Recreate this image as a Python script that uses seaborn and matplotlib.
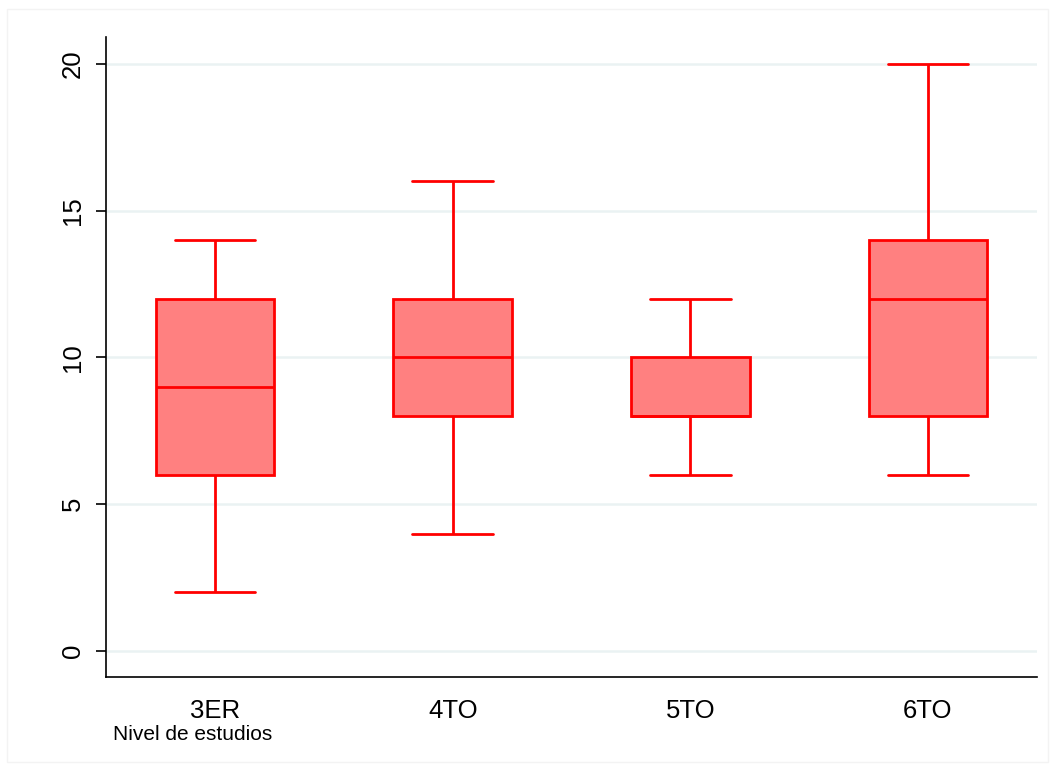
import matplotlib
matplotlib.use("Agg")
import matplotlib.pyplot as plt
import seaborn as sns
import pandas as pd
from matplotlib.patches import Rectangle

# Scores per study level (min, Q1, median, Q3, max)
niveles = ["3ER", "4TO", "5TO", "6TO"]
valores_3er = [2, 6, 9, 12, 14]
valores_4to = [4, 8, 10, 12, 16]
valores_5to = [6, 8, 8, 10, 12]
valores_6to = [6, 8, 12, 14, 20]
y_ticks = [0, 5, 10, 15, 20]

df = pd.DataFrame({
    "nivel": [n for n, v in zip(niveles, [valores_3er, valores_4to, valores_5to, valores_6to]) for _ in v],
    "valor": valores_3er + valores_4to + valores_5to + valores_6to,
})

sns.set_theme(style="white")
plt.rcParams["font.family"] = ["Liberation Sans", "DejaVu Sans"]

fig = plt.figure(figsize=(10.55, 7.71), dpi=100)
ax = fig.add_axes([106 / 1055, 1 - 677 / 771, (1037 - 106) / 1055, (677 - 37) / 771])

# Faint outer frame around the graph region
fig.patches.append(Rectangle((7 / 1055, 1 - 762 / 771), (1048 - 7) / 1055, (762 - 9) / 771,
                             transform=fig.transFigure, fill=False,
                             edgecolor="#f3f3f3", linewidth=1.0, zorder=0))

red = "#ff0000"
lw = 2.0
sns.boxplot(data=df, x="nivel", y="valor", order=niveles, ax=ax,
            width=0.5, whis=10, color="#ff8080", linecolor=red, linewidth=lw,
            saturation=1, showfliers=False,
            boxprops=dict(facecolor="#ff8080", edgecolor=red, zorder=3),
            medianprops=dict(color=red, linewidth=lw, zorder=4),
            whiskerprops=dict(color=red, linewidth=lw, zorder=3),
            capprops=dict(color=red, linewidth=lw, zorder=3),
            capwidths=0.34)

ax.set_xlim(-0.459, 3.459)
ax.set_ylim(-0.89, 20.92)
ax.set_yticks(y_ticks)
ax.set_yticklabels([str(t) for t in y_ticks], rotation=90, va="center")
for t in y_ticks:
    ax.axhline(t, color="#eaf2f3", linewidth=1.8, zorder=0)

ax.spines["top"].set_visible(False)
ax.spines["right"].set_visible(False)
for s in ("left", "bottom"):
    ax.spines[s].set_color("#000000")
    ax.spines[s].set_linewidth(1.2)

ax.tick_params(axis="y", which="both", left=True, length=7, width=1.2, color="#000000",
               labelsize=18.5, labelcolor="#000000", pad=8)
ax.tick_params(axis="x", which="both", bottom=False, labelsize=18.5,
               labelcolor="#000000", pad=10)
ax.set_ylabel("")
ax.set_xlabel("")

fig.text(113 / 1055, 1 - 735 / 771, "Nivel de estudios", fontsize=15,
         ha="left", va="center", color="#000000")

fig.savefig("out.png", dpi=100)
